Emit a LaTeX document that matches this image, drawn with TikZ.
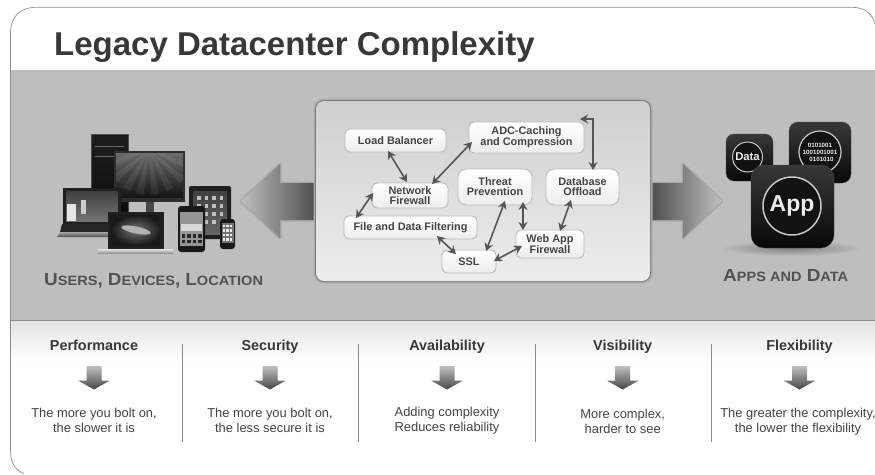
\documentclass[tikz,border=0pt]{standalone}
\usepackage{fontspec}
\setmainfont{Liberation Sans}
\newfontfamily\wideface[FakeStretch=1.08]{Liberation Sans}
\usetikzlibrary{arrows.meta,calc,shadings}
\definecolor{band}{HTML}{BEBEBE}
\definecolor{ink}{HTML}{444444}
\definecolor{rulec}{HTML}{8E8E8E}
\definecolor{conn}{HTML}{555555}
\newcommand{\fs}[2]{\fontsize{#1}{#2}\selectfont}
\newcommand{\sccaps}[2]{{\fs{17.5}{20}#1}{\fs{13.5}{16}#2}}
\tikzset{
  x=1pt,y=-1pt,
  boxnode/.style={draw=black!27,line width=.9pt,rounded corners=5pt,top color=white,bottom color=black!7,
    inner sep=0pt,align=center,text=ink,font=\fs{10.9}{10}\bfseries},
  linkarrow/.style={draw=conn,line width=1.6pt,{Stealth[length=8pt,width=9pt]}-{Stealth[length=8pt,width=9pt]}},
  head/.style={text=black!78,font=\fs{14.4}{16}\bfseries},
  body/.style={text=ink,align=center,font=\fs{12.9}{14.7}\selectfont},
  divider/.style={draw=black!45,line width=.7pt},
  downarrow/.style={draw=none,top color=black!25,bottom color=black!72},
  bigshadow/.style={fill=black,fill opacity=.10,draw=black,draw opacity=.10,line width=3pt,line join=round},
  iconbg/.style={rounded corners=#1,top color=black!78,bottom color=black!97,draw=black!70,line width=.3pt},
  ringc/.style={draw=black!22,fill=black!93},
  capslabel/.style={anchor=base west,inner sep=0pt,text=black!68,font=\wideface\bfseries\fs{17}{20}},
}
\begin{document}
\begin{tikzpicture}
\useasboundingbox (0,0) rectangle (875,474);
\fill[white] (0,0) rectangle (875,474);
% grey band and bottom gradient
\fill[band] (10.5,70) rectangle (875,320.5);
\shade[top color=black!10,bottom color=white,draw=none] (10.5,321) rectangle (875,363);
\draw[rulec,line width=.9pt] (10.5,320.5) -- (875,320.5);
% frame
\draw[rulec,line width=.7pt] (875,24) .. controls (872,13) and (864,7.3) .. (852,7.3) -- (36,7.3)
  .. controls (20,7.3) and (10.5,17) .. (10.5,33) -- (10.5,450)
  .. controls (10.5,463) and (15,470) .. (24,473.6);
\node[anchor=base west,inner sep=0pt,text=black!78,font=\fs{33}{36}\bfseries] (title) at (54,55) {Legacy Datacenter Complexity};

% big arrows
\path[bigshadow] (241,201) -- (280,164) -- (280,183) -- (316,183) -- (316,220) -- (280,220) -- (280,238) -- cycle;
\shade[left color=black!25,right color=black!70,draw=none] (241,201) -- (280,164) -- (280,183) -- (316,183) -- (316,220) -- (280,220) -- (280,238) -- cycle;
\path[bigshadow] (722,201) -- (683,164) -- (683,183) -- (650,183) -- (650,220) -- (683,220) -- (683,238) -- cycle;
\shade[right color=black!25,left color=black!70,draw=none] (722,201) -- (683,164) -- (683,183) -- (650,183) -- (650,220) -- (683,220) -- (683,238) -- cycle;

% central panel
\fill[black!32,rounded corners=10pt] (313.5,98.5) rectangle (652.5,283.5);
\fill[black!52,rounded corners=9pt] (315,100) rectangle (651,282);
\shade[top color=black!19,bottom color=black!7,rounded corners=8pt,draw=none] (316,101) rectangle (650,281);

\node[boxnode,minimum width=101,minimum height=23] (lb) at (395.5,140.5) {Load Balancer};
\node[boxnode,minimum width=115,minimum height=31] (adc) at (526.5,137.5) {ADC-Caching\\and Compression};
\node[boxnode,minimum width=76,minimum height=25] (nf) at (410,195.5) {Network\\Firewall};
\node[boxnode,minimum width=74,minimum height=36,rounded corners=8pt] (threat) at (495,187) {Threat\\Prevention};
\node[boxnode,minimum width=73,minimum height=36,rounded corners=8pt] (db) at (582.5,187) {Database\\Offload};
\node[boxnode,minimum width=133,minimum height=23] (file) at (410.5,227.5) {File and Data Filtering};
\node[boxnode,minimum width=54,minimum height=23] (ssl) at (469,261.5) {SSL};
\node[boxnode,minimum width=68,minimum height=28] (web) at (550,244) {Web App\\Firewall};

\draw[linkarrow] ($(lb.center)+(-7.5,10.5)$) -- ($(nf.center)+(-3,-13.5)$);
\draw[linkarrow] ($(adc.center)+(-54.5,4.5)$) -- ($(nf.center)+(22,-11.5)$);
\draw[linkarrow] ($(nf.center)+(-37,-2.5)$) -- ($(file.center)+(-54.5,-9.5)$);
\draw[linkarrow] ($(file.center)+(26.5,8.5)$) -- ($(ssl.center)+(-13,-7.5)$);
\draw[linkarrow] ($(threat.center)+(10,14)$) -- ($(ssl.center)+(17,-10.5)$);
\draw[linkarrow] ($(threat.center)+(28,15)$) -- ($(web.center)+(-27,-14)$);
\draw[linkarrow] ($(db.center)+(-11.5,13)$) -- ($(web.center)+(10,-13)$);
\draw[linkarrow] ($(ssl.center)+(25,-0.5)$) -- ($(web.center)+(-28,2)$);
\draw[linkarrow] ($(adc.center)+(53.5,-18.5)$) -| ($(db.center)+(10.5,-17)$);

% devices: tower
\shade[top color=black!88,bottom color=black!95,draw=black!70,line width=.4pt] (91,134) rectangle (128,212);
\draw[black!60,line width=.4pt] (95,146) -- (124,146) (95,156) -- (124,156);
% monitor
\fill[black!72] (146,202) rectangle (154,213);
\fill[black!82] (114,151) rectangle (185,202);
\shade[top color=black!58,bottom color=black!92,draw=none] (116,153) rectangle (183,197);
\begin{scope}
\clip (116,153) rectangle (183,197);
\foreach \a in {-70,-50,-30,-12,8,28,48,68}
  \fill[white,fill opacity=.07] (149,150) -- ($(149,150)+({45*sin(\a-5)},{45*cos(\a-5)})$) -- ($(149,150)+({45*sin(\a+5)},{45*cos(\a+5)})$) -- cycle;
\end{scope}
% windows laptop
\fill[black!88] (63,188) rectangle (121,224);
\shade[top color=black!75,bottom color=black!55,draw=none] (66,191) rectangle (118,221);
\fill[black!10] (67,204) rectangle (76,221);
\fill[black!20] (81,200) rectangle (86,214);
\fill[black!85] (62,224) -- (119,224) -- (112,232) -- (60,232) -- cycle;
\shade[top color=black!35,bottom color=black!70,draw=none] (60,232) -- (112,232) -- (110,237) -- (57,237) -- cycle;
% macbook
\fill[black!88] (108,212) rectangle (164,249);
\shade[inner color=black!55,outer color=black!90,draw=none] (111,215) rectangle (161,245);
\fill[black!30,rotate around={-12:(136,230)}] (136,230) ellipse (15 and 3.5);
\shade[top color=black!10,bottom color=black!40,draw=none] (98,249) rectangle (173,253);
% tablet
\fill[black!88,rounded corners=2pt] (189,186) rectangle (231,239);
\shade[top color=black!75,bottom color=black!60,draw=none] (193,191) rectangle (227,234);
\foreach \i in {0,1,2,3} \foreach \j in {0,1,2,3}
  \fill[black!25] (197+\i*7.5,196+\j*8) rectangle ++(3.5,3.5);
% phone
\fill[black!90,rounded corners=3pt] (178,206) rectangle (205,252);
\fill[black!42] (180,212) rectangle (203,246);
\fill[black!15] (181,224) rectangle (202,231);
\foreach \i in {0,1,2,3} \foreach \j in {0,1}
  \fill[black!85] (181.5+\i*5.5,234+\j*5.5) rectangle ++(3.5,3.5);
% iphone
\fill[black!90,rounded corners=3pt] (220,219) rectangle (235,249);
\fill[black!55] (221.5,223) rectangle (233.5,243);
\foreach \i in {0,1,2} \foreach \j in {0,1,2,3}
  \fill[black!8] (222.5+\i*3.7,224.5+\j*4.5) rectangle ++(2.4,2.8);

\node[capslabel] (users) at (44,285)
  {\sccaps{U}{SERS}\sccaps{,}{} \sccaps{D}{EVICES}\sccaps{,}{} \sccaps{L}{OCATION}};

% apps
\shade[inner color=black!50,outer color=band,draw=none] (791,248) ellipse (71 and 8);
\draw[iconbg=8pt] (726,134) rectangle (773,181);
\draw[ringc,line width=1pt] (747.5,157) circle (15);
\node[text=black!8,inner sep=0pt,font=\fs{11.3}{13}\bfseries] (data) at (747.5,157) {Data};
\draw[iconbg=9pt] (789,122) rectangle (851,183);
\draw[ringc,line width=1.2pt] (820,152) circle (21);
\node[text=black!8,inner sep=0pt,align=center,font=\fs{6.2}{7}\bfseries] (bin) at (820,152) {0101001\\1001001001\\\hspace*{3pt}0101010};
\draw[iconbg=13pt] (751,165) rectangle (834,248);
\draw[ringc,line width=1.5pt] (792,206) circle (29);
\node[text=black!8,inner sep=0pt,font=\fs{23}{25}\bfseries] (app) at (792,206) {App};
\node[capslabel] (apps) at (723,281)
  {\sccaps{A}{PPS AND} \sccaps{D}{ATA}};

% bottom columns
\foreach \cx/\nm in {182/d1,358.5/d2,535/d3,711.5/d4}
  \draw[divider] (\cx,344) coordinate (\nm t) -- (\cx,442) coordinate (\nm b);
\foreach \cx/\nm/\hd/\bd/\tx/\by in {
   94/p/Performance/{The more you bolt on,\\the slower it is}/94/420.5,
   270/s/Security/{The more you bolt on,\\the less secure it is}/270/420.5,
   447/a/Availability/{Adding complexity\\Reduces reliability}/447/420.5,
   622.7/v/Visibility/{More complex,\\harder to see}/622.7/421.5,
   799.5/f/Flexibility/{The greater the complexity,\\the lower the flexibility}/798/421.5}{
  \node[head,inner sep=0pt,anchor=base] (h\nm) at (\cx,350) {\hd};
  \shade[downarrow] (\cx-7.5,366) -- (\cx+7.5,366) -- (\cx+7.5,380.5) -- (\cx+16,380.5) -- (\cx,389.5) -- (\cx-16,380.5) -- (\cx-7.5,380.5) -- cycle;
  \node[body,inner sep=0pt] (b\nm) at (\tx,\by) {\bd};
}
\end{tikzpicture}
\end{document}
